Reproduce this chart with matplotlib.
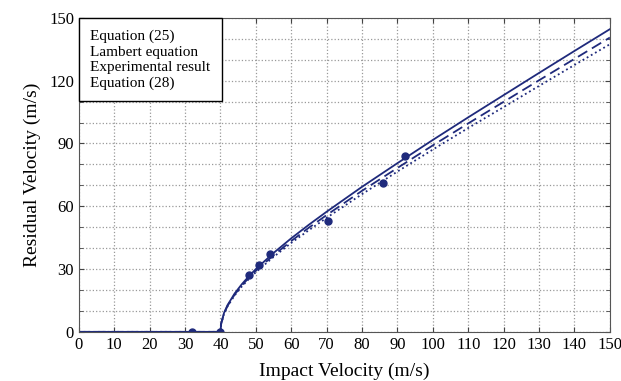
import matplotlib
matplotlib.use("Agg")
import matplotlib.pyplot as plt
from matplotlib.ticker import MultipleLocator

# impact velocity (m/s) and residual velocity
impact_v = [0, 40, 40.2, 41, 42, 44, 46, 48, 50, 55, 60, 65, 70, 80, 90,
            100, 110, 120, 130, 140, 150]
eq25_v = [0, 0, 4.0, 9.0, 12.8, 18.3, 22.7, 26.5, 30.0, 37.7, 44.7, 51.2,
          57.4, 69.3, 80.6, 91.7, 102.5, 113.1, 123.7, 134.2, 144.6]
lambert_v = [0, 0, 3.9, 8.7, 12.4, 17.8, 22.1, 25.8, 29.2, 36.6, 43.4, 49.8,
             55.8, 67.4, 78.3, 89.1, 99.6, 109.9, 120.2, 130.4, 140.6]
eq28_v = [0, 0, 3.8, 8.6, 12.2, 17.4, 21.6, 25.2, 28.5, 35.8, 42.5, 48.6,
          54.5, 65.8, 76.6, 87.1, 97.4, 107.4, 117.5, 127.5, 137.4]

# experimental points
exp_impact = [32, 40, 48, 51, 54, 70.5, 86, 92]
exp_resid = [0, 0, 27, 32, 37, 53, 71, 84]

color = "#1f2a7c"
plt.rcParams["font.family"] = ["Liberation Serif", "DejaVu Serif"]

fig = plt.figure(figsize=(6.21, 3.81), dpi=100)
ax = fig.add_axes([0.127, 0.129, 0.855, 0.824])

l1, = ax.plot(impact_v, eq25_v, "-", color=color, lw=1.3, label="Equation (25)")
l2, = ax.plot(impact_v, lambert_v, "--", color=color, lw=1.3, dashes=(6, 3),
              label="Lambert equation")
l3, = ax.plot(exp_impact, exp_resid, "o", color=color, ms=5, ls="none",
              label="Experimental result")
l4, = ax.plot(impact_v, eq28_v, ":", color=color, lw=1.3, label="Equation (28)")

ax.set_xlim(0, 150)
ax.set_ylim(0, 150)
ax.xaxis.set_major_locator(MultipleLocator(10))
ax.yaxis.set_major_locator(MultipleLocator(30))
ax.yaxis.set_minor_locator(MultipleLocator(10))
ax.grid(True, which="both", ls=":", color="#999999", lw=0.9)
ax.tick_params(which="both", direction="in", top=True, right=True,
               labelsize=12, color="#444444")
ax.tick_params(which="minor", length=3)
for s in ax.spines.values():
    s.set_color("#555555")

ax.set_xlabel("Impact Velocity (m/s)", fontsize=14, labelpad=7)
ax.set_ylabel("Residual Velocity (m/s)", fontsize=14, labelpad=6)

leg = ax.legend(handles=[l1, l2, l3, l4], loc="upper left", fontsize=11,
                handlelength=0, handletextpad=0, markerscale=0,
                fancybox=False, framealpha=1, edgecolor="black",
                borderaxespad=0, labelspacing=0.12, borderpad=0.75)
for h in leg.legend_handles:
    h.set_visible(False)
leg.get_frame().set_linewidth(1.0)

fig.savefig("out.png", dpi=100)
